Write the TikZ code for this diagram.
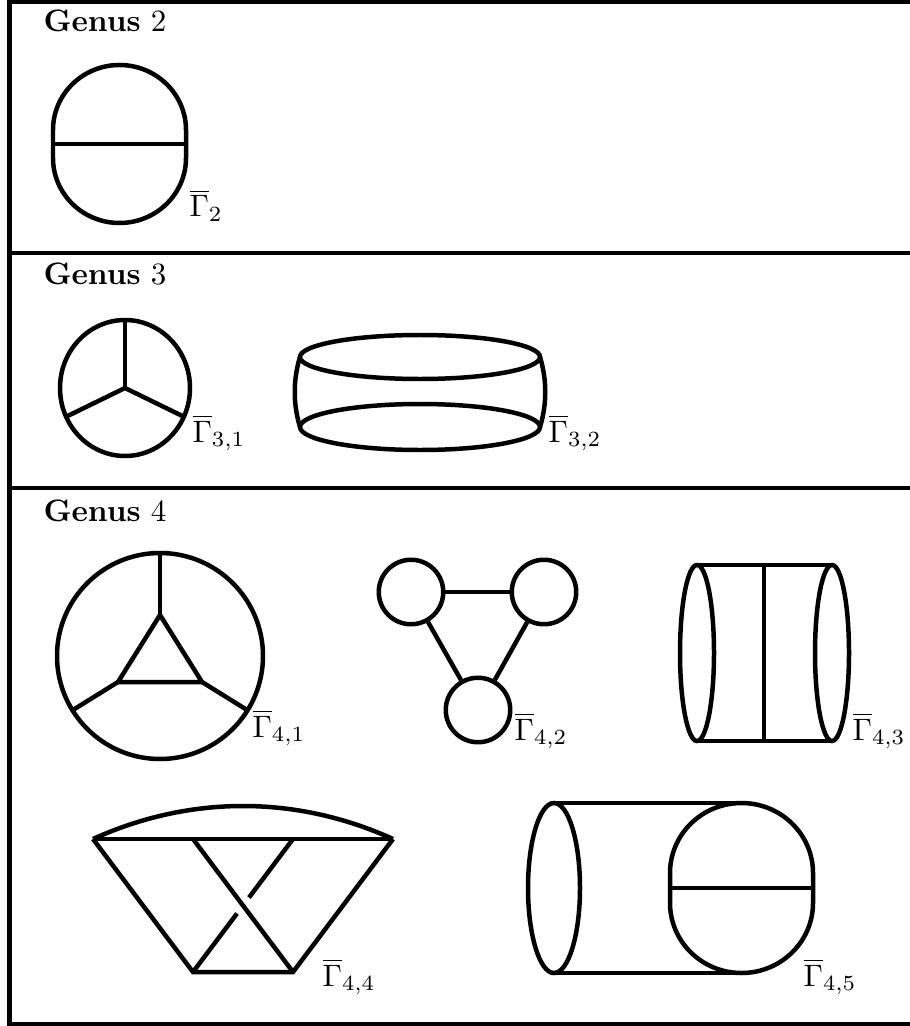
\documentclass[tikz,border=0pt]{standalone}
\usepackage{amsmath,amssymb}
\usepackage{tikz}
\usetikzlibrary{calc}

\begin{document}
\begin{tikzpicture}[
  x=0.3226pt, y=-0.3226pt,
  edge/.style={line width=1.45pt},
  frame/.style={line width=1.4pt},
  vtx/.style={circle, draw, line width=1.45pt, minimum size=20.8pt, inner sep=0pt},
  genus/.style={anchor=base west, inner sep=0pt},
  glabel/.style={anchor=base west, inner sep=0pt}
]
  \useasboundingbox (0,0) rectangle (909,1026);

  % --- Frame ---
  \draw[frame] (920,2) -- (9.5,2) -- (9.5,1024) -- (920,1024);
  \draw[frame] (9.5,253) -- (920,253);
  \draw[frame] (9.5,488) -- (920,488);

  \node[genus] (gen2) at (43,32)  {\textbf{Genus} $2$};
  \node[genus] (gen3) at (43,285) {\textbf{Genus} $3$};
  \node[genus] (gen4) at (43,521) {\textbf{Genus} $4$};

  % --- Genus 2 ---
  \coordinate (t2l) at (53,144);
  \coordinate (t2r) at (186,144);
  \draw[edge] (t2l) -- ++(0,-14) arc[start angle=180, end angle=360, x radius=66.5, y radius=65]
    -- (t2r) -- ++(0,14) arc[start angle=0, end angle=180, x radius=66.5, y radius=65] -- cycle;
  \draw[edge] (t2l) -- (t2r);
  \node[glabel] (lab2) at (189,217) {$\overline{\Gamma}_2$};

  % --- Genus 3 ---
  \coordinate (c31) at (125,388);
  \draw[edge] (c31) ellipse[x radius=65, y radius=68];
  \path (c31) ++(270:65 and 68) coordinate (v31a)
        (c31) ++(155:65 and 68) coordinate (v31b)
        (c31) ++(25:65 and 68)  coordinate (v31c);
  \draw[edge] (c31) -- (v31a);
  \draw[edge] (c31) -- (v31b);
  \draw[edge] (c31) -- (v31c);
  \node[glabel] (lab31) at (192,442) {$\overline{\Gamma}_{3,1}$};

  \coordinate (b32t) at (420,357);
  \coordinate (b32b) at (420,427);
  \draw[edge] (b32t) ellipse[x radius=120, y radius=22];
  \draw[edge] (b32b) ellipse[x radius=120, y radius=23];
  \draw[edge] (300,357) .. controls (293,380) and (293,404) .. (300,427);
  \draw[edge] (540,357) .. controls (547,380) and (547,404) .. (540,427);
  \node[glabel] (lab32) at (548,442) {$\overline{\Gamma}_{3,2}$};

  % --- Genus 4, first row ---
  \coordinate (c41) at (160,656);
  \coordinate (p41a) at (160,615);
  \coordinate (p41b) at (118,682);
  \coordinate (p41c) at (202,682);
  \draw[edge] (c41) circle[radius=103];
  \draw[edge] (p41a) -- (p41b) -- (p41c) -- cycle;
  \draw[edge] (p41a) -- (160,553);
  \draw[edge] (p41b) -- ($(c41)+(148.2:103)$);
  \draw[edge] (p41c) -- ($(c41)+(31.8:103)$);
  \node[glabel] (lab41) at (252,737) {$\overline{\Gamma}_{4,1}$};

  \node[vtx] (ul) at (411,592) {};
  \node[vtx] (ur) at (544,592) {};
  \node[vtx] (bt) at (478,710) {};
  \draw[edge] (ul) -- (ur);
  \draw[edge] (ul) -- (bt);
  \draw[edge] (ur) -- (bt);
  \node[glabel] (lab42) at (514,740) {$\overline{\Gamma}_{4,2}$};

  \coordinate (e43l) at (697,653);
  \coordinate (e43r) at (832,653);
  \draw[edge] (e43l) ellipse[x radius=17, y radius=88];
  \draw[edge] (e43r) ellipse[x radius=17, y radius=88];
  \draw[edge] (697,565) -- (832,565);
  \draw[edge] (697,741) -- (832,741);
  \draw[edge] (764,565) -- (764,741);
  \node[glabel] (lab43) at (852,740) {$\overline{\Gamma}_{4,3}$};

  % --- Genus 4, second row ---
  \coordinate (q1) at (93,839);
  \coordinate (q2) at (193,839);
  \coordinate (q3) at (293,839);
  \coordinate (q4) at (393,839);
  \coordinate (q5) at (193,972);
  \coordinate (q6) at (293,972);
  \draw[edge] (q1) .. controls (190,795) and (296,795) .. (q4);
  \draw[edge] (q1) -- (q4);
  \draw[edge] (q1) -- (q5) -- (q6) -- (q4);
  \draw[edge] (q2) -- (q6);
  \draw[edge] (q3) -- ($(q3)!0.44!(q5)$);
  \draw[edge] ($(q3)!0.56!(q5)$) -- (q5);
  \node[glabel] (lab44) at (322,986) {$\overline{\Gamma}_{4,4}$};

  \coordinate (e45) at (554,888);
  \coordinate (t45l) at (670,888);
  \coordinate (t45r) at (813,888);
  \draw[edge] (e45) ellipse[x radius=26, y radius=85];
  \draw[edge] (554,803) -- (735,803);
  \draw[edge] (554,973) -- (735,973);
  \draw[edge] (t45l) -- ++(0,-15) arc[start angle=180, end angle=360, x radius=71.5, y radius=70]
    -- (t45r) -- ++(0,15) arc[start angle=0, end angle=180, x radius=71.5, y radius=70] -- cycle;
  \draw[edge] (t45l) -- (t45r);
  \node[glabel] (lab45) at (803,986) {$\overline{\Gamma}_{4,5}$};
\end{tikzpicture}
\end{document}
